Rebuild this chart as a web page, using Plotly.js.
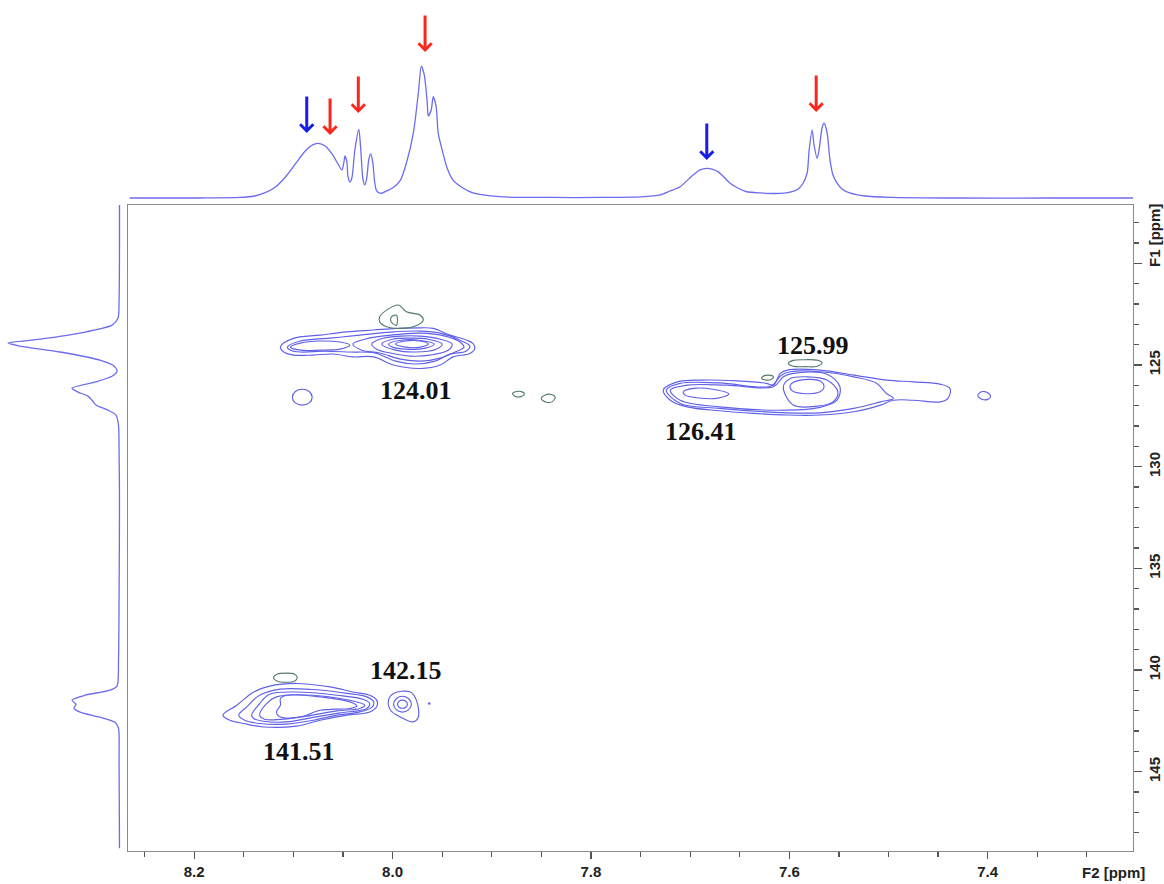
<!DOCTYPE html>
<html><head><meta charset="utf-8">
<script src="https://cdn.plot.ly/plotly-3.0.1.min.js"></script>
<style>html,body{margin:0;padding:0;background:#fff}#chart{width:1164px;height:884px}</style>
</head><body><div id="chart"></div>
<script>
// ---- 1H projection (top), F2 ppm vs relative intensity ----
const TOP_PPM = [8.265,8.194,8.154,8.139,8.129,8.118,8.108,8.098,8.088,8.081,8.075,8.068,8.061,8.055,8.051,8.049,8.048,8.046,8.045,8.043,8.041,8.038,8.034,8.032,8.030,8.028,8.026,8.024,8.022,8.020,8.018,8.016,8.012,8.006,8.000,7.992,7.986,7.979,7.974,7.971,7.968,7.965,7.964,7.961,7.959,7.956,7.954,7.950,7.945,7.939,7.929,7.919,7.892,7.841,7.791,7.750,7.730,7.720,7.710,7.697,7.690,7.683,7.678,7.672,7.666,7.660,7.652,7.643,7.629,7.614,7.599,7.591,7.586,7.582,7.580,7.577,7.575,7.572,7.570,7.567,7.565,7.562,7.559,7.556,7.552,7.547,7.539,7.524,7.498,7.438,7.337,7.253];
const TOP_INT = [0,0,0.004,0.015,0.038,0.083,0.158,0.256,0.353,0.398,0.410,0.391,0.331,0.256,0.211,0.271,0.316,0.271,0.165,0.120,0.150,0.361,0.515,0.361,0.150,0.098,0.150,0.286,0.331,0.271,0.120,0.053,0.035,0.053,0.075,0.135,0.263,0.489,0.789,0.992,0.925,0.714,0.617,0.662,0.762,0.686,0.489,0.361,0.226,0.135,0.075,0.038,0.010,0.004,0.004,0.008,0.023,0.053,0.085,0.173,0.211,0.223,0.218,0.198,0.158,0.113,0.075,0.047,0.038,0.034,0.045,0.068,0.113,0.188,0.361,0.511,0.398,0.298,0.361,0.526,0.562,0.496,0.286,0.173,0.113,0.068,0.038,0.015,0.005,0,0,0];

// ---- 13C projection (left), F1 ppm vs relative intensity ----
const LEFT_PPM = [117.13,119.35,121.81,122.69,123.04,123.43,123.73,123.92,124.07,124.36,124.76,125.05,125.30,125.55,125.84,126.14,126.33,126.53,126.73,126.97,127.22,127.46,127.96,129.19,131.65,136.56,139.52,140.79,140.99,141.24,141.48,141.68,141.88,142.07,142.32,142.57,142.86,144.43,148.76];
const LEFT_INT = [0,0,0.004,0.013,0.067,0.354,0.713,1.000,0.892,0.534,0.175,0.049,0.022,0.067,0.220,0.426,0.372,0.283,0.247,0.211,0.103,0.031,0.009,0.004,0,0.004,0.009,0.022,0.085,0.309,0.426,0.390,0.408,0.354,0.175,0.040,0.009,0.004,0];

// ---- HSQC contour rings: [F2 ppm, F1 ppm] ----
const R124_A = [[8.113,124.10],[8.100,123.69],[8.073,123.53],[8.046,123.37],[8.019,123.28],[7.996,123.20],[7.972,123.17],[7.959,123.20],[7.942,123.53],[7.925,123.78],[7.919,123.94],[7.917,124.18],[7.922,124.43],[7.939,124.60],[7.952,125.00],[7.972,125.17],[7.999,125.00],[8.019,124.60],[8.040,124.60],[8.060,124.46],[8.080,124.51],[8.100,124.51],[8.110,124.35]];
const R124_B = [[8.106,124.12],[8.093,123.82],[8.063,123.68],[8.033,123.53],[8.002,123.38],[7.972,123.33],[7.952,123.43],[7.932,123.78],[7.922,124.07],[7.926,124.32],[7.942,124.46],[7.957,124.81],[7.977,124.95],[7.997,124.81],[8.018,124.41],[8.043,124.36],[8.068,124.32],[8.093,124.36],[8.103,124.27]];
const R124_L = [[8.103,124.12],[8.093,123.92],[8.073,123.82],[8.053,123.87],[8.043,124.02],[8.053,124.22],[8.073,124.27],[8.093,124.27]];
const R124_C = [[8.040,123.97],[8.028,123.73],[8.002,123.53],[7.972,123.43],[7.947,123.58],[7.932,123.87],[7.928,124.12],[7.937,124.36],[7.952,124.66],[7.972,124.81],[7.992,124.71],[8.013,124.41],[8.031,124.27]];
const R124_D = [[8.021,123.97],[8.013,123.73],[7.992,123.58],[7.972,123.58],[7.952,123.73],[7.940,123.97],[7.944,124.27],[7.962,124.51],[7.982,124.56],[8.002,124.41],[8.016,124.22]];
const R124_E = [[8.011,123.97],[8.000,123.73],[7.982,123.68],[7.964,123.73],[7.950,123.97],[7.956,124.22],[7.977,124.36],[7.997,124.27]];
const R124_F = [[8.004,123.97],[7.992,123.78],[7.974,123.78],[7.958,123.97],[7.967,124.17],[7.987,124.22],[8.000,124.12]];
const R124_G = [[7.997,123.97],[7.987,123.82],[7.972,123.82],[7.964,123.97],[7.972,124.12],[7.987,124.12]];
const G124_OUT = [[8.013,122.63],[8.006,122.30],[7.994,122.05],[7.986,122.38],[7.972,122.55],[7.969,122.79],[7.975,123.04],[7.992,123.20],[8.006,123.12],[8.013,122.87]];
const G124_IN = [[8.001,122.63],[7.996,122.55],[7.996,123.04],[8.000,122.95],[8.002,122.79]];
const C124_SMALL = [[8.101,126.58],[8.098,126.30],[8.091,126.19],[8.084,126.30],[8.081,126.58],[8.084,126.86],[8.091,126.97],[8.098,126.86]];

const R126_1 = [[7.727,126.23],[7.713,125.83],[7.687,125.74],[7.653,125.78],[7.623,125.90],[7.616,125.99],[7.609,125.41],[7.602,125.25],[7.569,125.25],[7.535,125.50],[7.502,125.74],[7.475,125.83],[7.448,125.94],[7.438,126.15],[7.440,126.64],[7.448,126.81],[7.475,126.73],[7.495,126.73],[7.508,126.97],[7.535,127.30],[7.569,127.46],[7.602,127.46],[7.636,127.38],[7.670,127.25],[7.703,127.06],[7.720,126.73]];
const R126_2 = [[7.724,126.23],[7.710,125.90],[7.670,125.88],[7.619,126.04],[7.608,125.50],[7.599,125.33],[7.569,125.33],[7.535,125.58],[7.512,125.90],[7.502,126.40],[7.495,126.64],[7.508,126.81],[7.535,127.13],[7.569,127.35],[7.602,127.35],[7.670,127.13],[7.710,126.89]];
const R126_3 = [[7.720,126.23],[7.703,125.99],[7.663,125.99],[7.616,126.07],[7.606,125.58],[7.596,125.41],[7.562,125.45],[7.549,126.07],[7.552,126.73],[7.569,127.08],[7.602,127.22],[7.670,127.06],[7.710,126.73]];
const R126_4 = [[7.606,126.07],[7.599,125.66],[7.582,125.58],[7.562,125.74],[7.551,126.32],[7.556,126.81],[7.572,127.02],[7.596,126.97]];
const R126_5 = [[7.599,125.99],[7.589,125.74],[7.569,125.79],[7.565,126.07],[7.569,126.32],[7.586,126.40],[7.597,126.27]];
const R126_L = [[7.707,126.32],[7.697,126.15],[7.677,126.19],[7.661,126.43],[7.673,126.64],[7.693,126.61],[7.705,126.48]];
const G126 = [[7.601,124.91],[7.596,124.77],[7.584,124.74],[7.572,124.76],[7.567,124.88],[7.572,125.06],[7.584,125.08],[7.596,125.06]];
const G126_S = [[7.628,125.62],[7.625,125.52],[7.622,125.50],[7.617,125.53],[7.616,125.62],[7.619,125.72],[7.623,125.74],[7.627,125.70]];
const C126_SMALL = [[7.410,126.51],[7.407,126.33],[7.403,126.31],[7.399,126.40],[7.397,126.55],[7.400,126.69],[7.404,126.71],[7.408,126.62]];
const G_MID1 = [[7.879,126.40],[7.875,126.30],[7.870,126.31],[7.867,126.42],[7.870,126.54],[7.876,126.55]];
const G_MID2 = [[7.850,126.66],[7.846,126.47],[7.840,126.45],[7.836,126.58],[7.839,126.80],[7.845,126.83]];

const R141_1 = [[8.171,142.22],[8.157,141.73],[8.140,141.08],[8.124,140.79],[8.097,140.66],[8.063,140.83],[8.040,141.08],[8.023,141.24],[8.016,141.48],[8.016,141.81],[8.023,142.06],[8.046,142.22],[8.073,142.47],[8.097,142.76],[8.130,142.80],[8.150,142.63],[8.164,142.47]];
const R141_2 = [[8.155,142.22],[8.147,141.81],[8.134,141.24],[8.113,140.94],[8.080,140.96],[8.046,141.15],[8.026,141.32],[8.019,141.57],[8.021,141.84],[8.033,142.06],[8.056,142.22],[8.080,142.47],[8.107,142.66],[8.134,142.63],[8.149,142.47]];
const R141_3 = [[8.142,142.22],[8.134,141.65],[8.124,141.19],[8.097,141.08],[8.056,141.24],[8.029,141.45],[8.023,141.65],[8.026,141.89],[8.053,142.11],[8.080,142.33],[8.107,142.55],[8.130,142.52],[8.140,142.38]];
const R141_4 = [[8.134,142.22],[8.127,141.65],[8.117,141.32],[8.080,141.24],[8.036,141.57],[8.028,141.73],[8.033,141.89],[8.056,142.01],[8.087,142.27],[8.113,142.43],[8.129,142.42]];
const R141_5 = [[8.117,142.06],[8.113,141.73],[8.113,141.40],[8.107,141.24],[8.073,141.32],[8.040,141.62],[8.036,141.78],[8.043,141.89],[8.073,141.98],[8.093,142.31],[8.113,142.31]];
const G141 = [[8.120,140.38],[8.116,140.20],[8.108,140.15],[8.099,140.20],[8.096,140.38],[8.099,140.55],[8.108,140.60],[8.116,140.55]];
const R142_1 = [[8.002,141.98],[8.004,141.48],[7.999,141.15],[7.982,141.08],[7.976,141.48],[7.974,142.31],[7.979,142.55],[7.992,142.31]];
const R142_2 = [[7.999,141.68],[7.996,141.40],[7.990,141.29],[7.984,141.40],[7.981,141.68],[7.984,141.96],[7.990,142.07],[7.996,141.96]];
const R142_3 = [[7.995,141.68],[7.993,141.52],[7.990,141.48],[7.987,141.52],[7.985,141.68],[7.987,141.84],[7.990,141.88],[7.993,141.84]];
const DOT_F2 = [7.963];
const DOT_F1 = [141.65];

// ---- peak labels ----
const PEAK_LABELS = ['124.01','125.99','126.41','142.15','141.51'];
const LABEL_F2 = [7.976,7.576,7.689,7.986,8.094];
const LABEL_F1 = [126.23,124.02,128.25,140.01,144.00];

// ---- arrows on the 1H projection ----
const ARROW_F2 = [8.0865,8.0630,8.0345,7.9672,7.6832,7.5729];
const ARROW_TIP = [0.489,0.474,0.639,1.098,0.286,0.647];
const ARROW_KIND = ['blue','red','red','red','blue','red'];

// ---- axis ticks ----
const X_MAJOR = [8.2,8.0,7.8,7.6,7.4];
const Y_MAJOR = [120,125,130,135,140,145];
const Y_MAJOR_TEXT = ['','125','130','135','140','145'];

const SPEC = 'rgb(108,108,240)';
const BLUE = 'rgb(96,96,232)';
const GREEN = 'rgb(84,124,108)';

const traces = [];
function ring(pts, color, w){
  const xs = pts.map(p=>p[0]); xs.push(pts[0][0]);
  const ys = pts.map(p=>p[1]); ys.push(pts[0][1]);
  traces.push({type:'scatter',mode:'lines',x:xs,y:ys,xaxis:'x',yaxis:'y',
    line:{color:color,width:w||1.15,shape:'spline',smoothing:1},hoverinfo:'skip',showlegend:false});
}
[R124_A,R124_B,R124_L,R124_C,R124_D,R124_E,R124_F,R124_G,C124_SMALL,
 R126_1,R126_2,R126_3,R126_4,R126_5,R126_L,C126_SMALL,
 R141_1,R141_2,R141_3,R141_4,R141_5,R142_1,R142_2,R142_3].forEach(r=>ring(r,BLUE));
[G124_OUT,G124_IN,G126,G126_S,G_MID1,G_MID2,G141].forEach(r=>ring(r,GREEN));
traces.push({type:'scatter',mode:'markers',x:DOT_F2,y:DOT_F1,xaxis:'x',yaxis:'y',
  marker:{size:2.5,color:BLUE},hoverinfo:'skip',showlegend:false});

traces.push({type:'scatter',mode:'lines',x:TOP_PPM,y:TOP_INT,xaxis:'x',yaxis:'y3',
  line:{color:SPEC,width:1.3,shape:'spline',smoothing:0.7},hoverinfo:'skip',showlegend:false});
traces.push({type:'scatter',mode:'lines',x:LEFT_INT,y:LEFT_PPM,xaxis:'x2',yaxis:'y',
  line:{color:SPEC,width:1.3,shape:'spline',smoothing:0.7},hoverinfo:'skip',showlegend:false});

const annotations = [];
const labFont = {family:'Liberation Serif, Times New Roman, serif',size:26,color:'#111',weight:'bold'};
PEAK_LABELS.forEach((t,i)=>annotations.push({xref:'x',yref:'y',x:LABEL_F2[i],y:LABEL_F1[i],text:t,
  showarrow:false,font:labFont,xanchor:'center',yanchor:'middle'}));
ARROW_F2.forEach((x,i)=>annotations.push({xref:'x',yref:'y3',x:x,y:ARROW_TIP[i],text:'',
  showarrow:true,ax:0,ay:-38,arrowhead:4,arrowsize:0.85,arrowwidth:3,standoff:0,
  arrowcolor:ARROW_KIND[i]==='red'?'rgb(250,40,28)':'rgb(22,30,232)'}));
const axFont = {family:'Liberation Sans, Arial, sans-serif',size:15,color:'#222',weight:'bold'};
annotations.push({xref:'paper',yref:'paper',x:1113/1133,y:-21/851,text:'F2 [ppm]',showarrow:false,
  font:axFont,xanchor:'center',yanchor:'middle'});
annotations.push({xref:'paper',yref:'paper',x:1155/1133,y:(851-236)/851,text:'F1 [ppm]',textangle:-90,
  showarrow:false,font:axFont,xanchor:'center',yanchor:'middle'});

const yMinor = []; for(let v=118; v<=148; v++){ if(v%5!==0) yMinor.push(v); }

const layout = {
  width:1164,height:884,margin:{l:0,r:31,t:0,b:33},
  paper_bgcolor:'#fff',plot_bgcolor:'rgba(0,0,0,0)',showlegend:false,
  annotations:annotations,
  xaxis:{domain:[127.7/1133,1],range:[8.267,7.2535],anchor:'y',showgrid:false,zeroline:false,
    showline:true,linecolor:'#8a8a8a',linewidth:1.2,mirror:true,
    tickmode:'array',tickvals:X_MAJOR,ticktext:X_MAJOR.map(v=>v.toFixed(1)),
    ticks:'outside',ticklen:7,tickcolor:'#555',tickwidth:1.2,tickfont:axFont,
    minor:{ticks:'outside',tickmode:'linear',tick0:8.0,dtick:0.05,ticklen:5,tickcolor:'#555',tickwidth:1.2}},
  yaxis:{domain:[0,646/851],range:[148.9,117.13],anchor:'x',side:'right',showgrid:false,zeroline:false,
    showline:true,linecolor:'#8a8a8a',linewidth:1.2,mirror:true,
    tickmode:'array',tickvals:Y_MAJOR,ticktext:Y_MAJOR_TEXT,tickangle:-90,
    ticks:'outside',ticklen:8,tickcolor:'#555',tickwidth:1.2,tickfont:axFont,
    minor:{ticks:'outside',tickmode:'array',tickvals:yMinor,ticklen:5,tickcolor:'#555',tickwidth:1.2}},
  xaxis2:{domain:[0,125/1133],range:[1.0717,-0.0493],anchor:'y',visible:false,showgrid:false,zeroline:false},
  yaxis3:{domain:[646/851,1],range:[-0.0526,1.4887],anchor:'x',visible:false,showgrid:false,zeroline:false}
};
Plotly.newPlot('chart',traces,layout,{displayModeBar:false,staticPlot:true});
</script></body></html>
